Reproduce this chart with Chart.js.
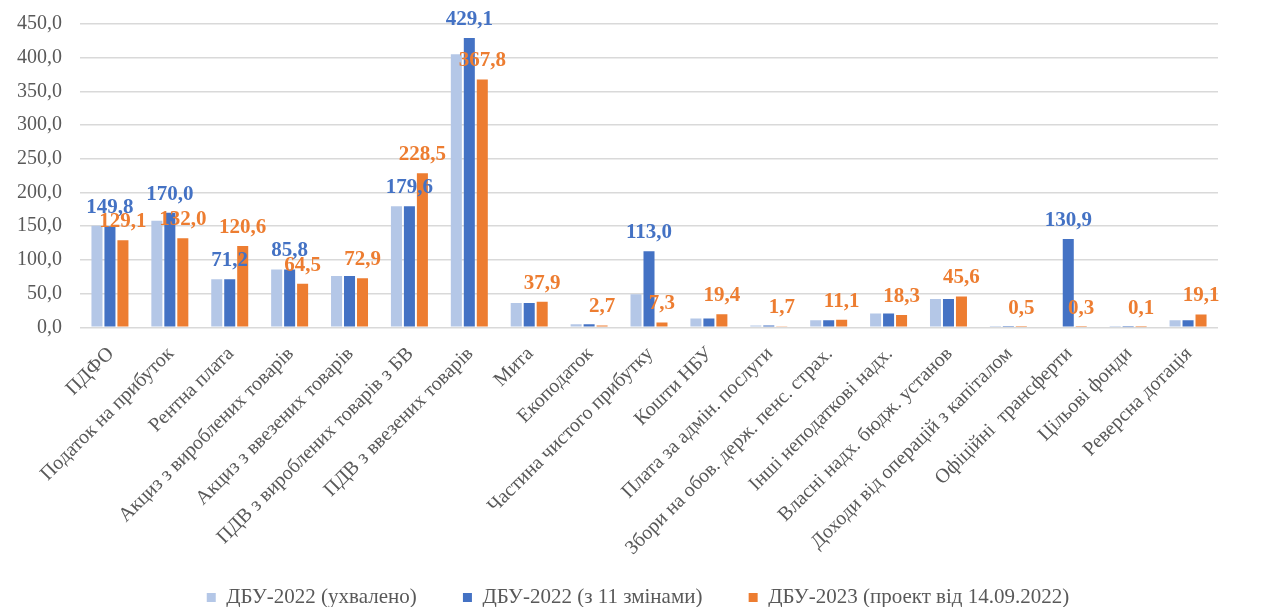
<!DOCTYPE html>
<html>
<head>
<meta charset="utf-8">
<script src="https://cdn.jsdelivr.net/npm/chart.js@4.4.1/dist/chart.umd.min.js"></script>
<style>
  body { margin: 0; background: #fff; }
  #wrap { width: 1265px; height: 607px; }
</style>
</head>
<body>
<div id="wrap"><canvas id="budgetChart"></canvas></div>
<script>
const categories = [
    'ПДФО', 'Податок на прибуток', 'Рентна плата', 'Акциз з вироблених товарів',
    'Акциз з ввезених товарів', 'ПДВ з вироблених товарів з БВ', 'ПДВ з ввезених товарів',
    'Мита', 'Екоподаток', 'Частина чистого прибутку', 'Кошти НБУ', 'Плата за адмін. послуги',
    'Збори на обов. держ. пенс. страх.', 'Інші неподаткові надх.', 'Власні надх. бюдж. установ',
    'Доходи від операцій з капіталом', 'Офіційні  трансферти', 'Цільові фонди', 'Реверсна дотація'
];
const seriesNames = ['ДБУ-2022 (ухвалено)', 'ДБУ-2022 (з 11 змінами)', 'ДБУ-2023 (проект від 14.09.2022)'];

const approved2022 = [150.5, 158.0, 71.2, 85.8, 76.0, 179.6, 405.0, 36.0, 4.5, 49.0, 13.0, 2.5, 10.5, 20.4, 42.0, 0.3, 0, 0.1, 10.4];
const amended2022  = [149.8, 170.0, 71.2, 85.8, 76.0, 179.6, 429.1, 36.0, 4.5, 113.0, 13.0, 2.5, 10.5, 20.4, 42.0, 0.3, 130.9, 0.1, 10.4];
const draft2023    = [129.1, 132.0, 120.6, 64.5, 72.9, 228.5, 367.8, 37.9, 2.7, 7.3, 19.4, 1.7, 11.1, 18.3, 45.6, 0.5, 0.3, 0.1, 19.1];

// which bars carry a value label (1 = shown)
const showAmended = [1, 1, 1, 1, 0, 1, 1, 0, 0, 1, 0, 0, 0, 0, 0, 0, 1, 0, 0];
const showDraft   = [1, 1, 1, 1, 1, 1, 1, 1, 1, 1, 1, 1, 1, 1, 1, 1, 1, 1, 1];

const yTicks = [0, 50, 100, 150, 200, 250, 300, 350, 400, 450];

const colors = ['#B4C7E7', '#4472C4', '#ED7D31'];
const serif = "'Liberation Serif', 'Times New Roman', serif";

function fmt(v) {
    return v.toFixed(1).replace('.', ',');
}

const valueLabels = {
    id: 'valueLabels',
    afterDatasetsDraw(chart) {
        const ctx = chart.ctx;
        const rules = [null, showAmended, showDraft];
        ctx.save();
        ctx.font = 'bold 21px ' + serif;
        ctx.textAlign = 'center';
        ctx.textBaseline = 'bottom';
        rules.forEach((flags, di) => {
            if (!flags) return;
            const meta = chart.getDatasetMeta(di);
            const values = chart.data.datasets[di].data;
            meta.data.forEach((bar, i) => {
                if (!flags[i]) return;
                ctx.fillStyle = colors[di];
                ctx.fillText(fmt(values[i]), bar.x, bar.y - 8);
            });
        });
        ctx.restore();
    }
};

const ctx = document.getElementById('budgetChart').getContext('2d');
new Chart(ctx, {
    type: 'bar',
    data: {
        labels: categories,
        datasets: [approved2022, amended2022, draft2023].map((d, i) => ({
            label: seriesNames[i],
            data: d,
            backgroundColor: colors[i],
            categoryPercentage: 0.65,
            barPercentage: 0.85
        }))
    },
    options: {
        responsive: true,
        maintainAspectRatio: false,
        animation: false,
        layout: { padding: { top: 24, right: 2, left: 13, bottom: -11 } },
        plugins: {
            tooltip: { enabled: false },
            legend: {
                position: 'bottom',
                labels: {
                    boxWidth: 9,
                    boxHeight: 9,
                    padding: 20,
                    color: '#595959',
                    font: { family: serif, size: 21 },
                    // wider gaps between items, like the original legend
                    generateLabels: chart => Chart.defaults.plugins.legend.labels.generateLabels(chart)
                        .map((item, i, all) => {
                            if (i < all.length - 1) item.text += '\u00a0\u00a0\u00a0\u00a0\u00a0';
                            return item;
                        })
                }
            }
        },
        scales: {
            x: {
                grid: { display: false },
                border: { display: false },
                // keep the plot's right edge where the original ends
                afterFit: axis => { axis.paddingRight = 47; },
                ticks: {
                    autoSkip: false,
                    minRotation: 45,
                    maxRotation: 45,
                    padding: 7,
                    labelOffset: 1,
                    color: '#595959',
                    font: { family: serif, size: 20 }
                }
            },
            y: {
                min: 0,
                max: 450,
                afterBuildTicks: axis => { axis.ticks = yTicks.map(v => ({ value: v })); },
                grid: { color: '#D9D9D9', lineWidth: 1.5, tickLength: 14, tickColor: 'rgba(0,0,0,0)' },
                border: { display: false },
                ticks: {
                    padding: 4,
                    color: '#595959',
                    font: { family: serif, size: 20 },
                    callback: v => fmt(v)
                }
            }
        }
    },
    plugins: [valueLabels]
});
</script>
</body>
</html>
